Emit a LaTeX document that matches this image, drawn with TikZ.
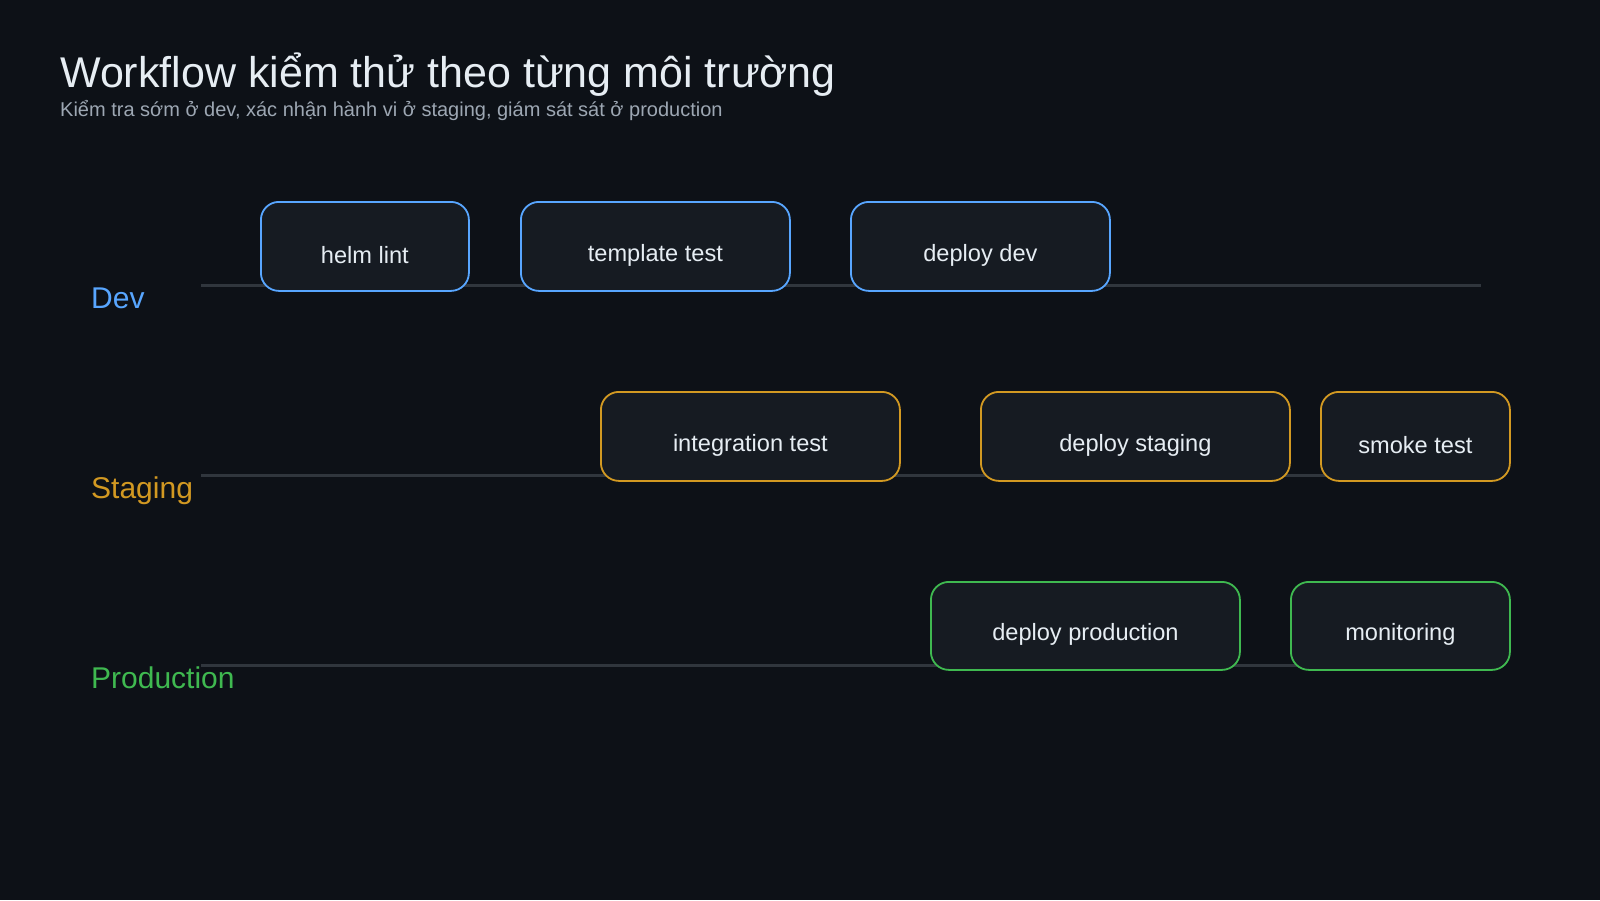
\documentclass[tikz,border=0pt]{standalone}
\usepackage{fontspec}
\setmainfont{Liberation Sans}
\definecolor{bg}{HTML}{0D1117}
\definecolor{boxfill}{HTML}{161B22}
\definecolor{laneline}{HTML}{30363D}
\definecolor{titlecol}{HTML}{E6EDF3}
\definecolor{subcol}{HTML}{9DA7B3}
\definecolor{devcol}{HTML}{58A6FF}
\definecolor{stgcol}{HTML}{D29922}
\definecolor{prodcol}{HTML}{3FB950}
\tikzset{
  stagebox/.style={draw, line width=1.8pt, fill=boxfill, rounded corners=18pt, inner sep=0pt, anchor=north west},
  boxtext/.style={text=titlecol, font=\fontsize{23.6}{28}\selectfont, inner sep=0pt},
  lanelbl/.style={font=\fontsize{30}{35}\selectfont, anchor=base west, inner sep=0pt},
  laneln/.style={draw=laneline, line width=3pt}
}
\newcommand{\stagenode}[7]{%
  \node[stagebox, draw=#2, minimum width=#5pt, minimum height=#6pt] (#1) at (#3,#4) {};
  \node[boxtext] (#1T) at ([yshift=-8.5pt]#1.center) {#7};
}
\begin{document}
\begin{tikzpicture}[x=1pt,y=-1pt]
\fill[bg] (0,0) rectangle (1600,900);
\useasboundingbox (0,0) rectangle (1600,900);
% title
\node[anchor=base west, inner sep=0pt, text=titlecol, font=\fontsize{43}{50}\selectfont] (title) at (60,87) {Workflow kiểm thử theo từng môi trường};
\node[anchor=base west, inner sep=0pt, text=subcol, font=\fontsize{20}{24}\selectfont] (subtitle) at (60,116) {Kiểm tra sớm ở dev, xác nhận hành vi ở staging, giám sát sát ở production};
% lanes
\coordinate (devA) at (201,285); \coordinate (devB) at (1481,285);
\coordinate (stgA) at (201,475); \coordinate (stgB) at (1481,475);
\coordinate (prodA) at (201,665); \coordinate (prodB) at (1481,665);
\draw[laneln] (devA) -- (devB);
\draw[laneln] (stgA) -- (stgB);
\draw[laneln] (prodA) -- (prodB);
\node[lanelbl, text=devcol] (devL) at (91,308) {Dev};
\node[lanelbl, text=stgcol] (stgL) at (91,498) {Staging};
\node[lanelbl, text=prodcol] (prodL) at (91,688) {Production};
% dev row
\stagenode{helm}{devcol}{260}{201}{208}{89}{helm lint}
\stagenode{tmpl}{devcol}{520}{201}{269}{89}{template test}
\stagenode{depdev}{devcol}{850}{201}{259}{89}{deploy dev}
% staging row
\stagenode{integ}{stgcol}{600}{391}{299}{89}{integration test}
\stagenode{depstg}{stgcol}{980}{391}{309}{89}{deploy staging}
\stagenode{smoke}{stgcol}{1320}{391}{189}{89}{smoke test}
% production row
\stagenode{depprod}{prodcol}{930}{581}{309}{88}{deploy production}
\stagenode{monit}{prodcol}{1290}{581}{219}{88}{monitoring}
\end{tikzpicture}
\end{document}
